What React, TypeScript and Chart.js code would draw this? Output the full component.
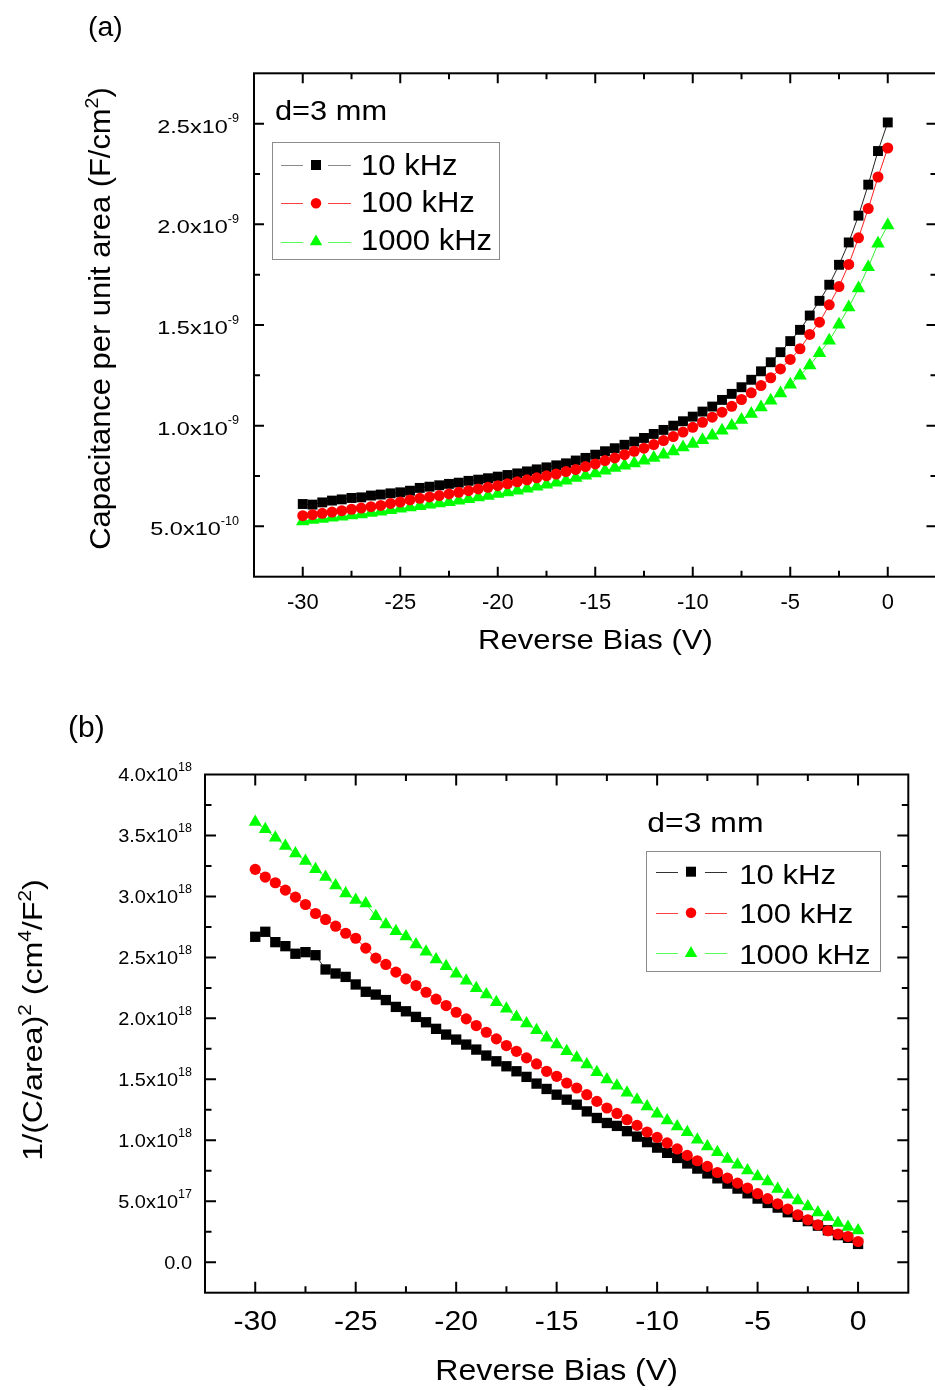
import React, { useEffect, useRef } from "react";
import { Chart, registerables } from "chart.js";
Chart.register(...registerables);

// ---------- data ----------
const biasV = [-30, -29.5, -29, -28.5, -28, -27.5, -27, -26.5, -26, -25.5, -25, -24.5, -24, -23.5, -23, -22.5, -22, -21.5, -21, -20.5, -20, -19.5, -19, -18.5, -18, -17.5, -17, -16.5, -16, -15.5, -15, -14.5, -14, -13.5, -13, -12.5, -12, -11.5, -11, -10.5, -10, -9.5, -9, -8.5, -8, -7.5, -7, -6.5, -6, -5.5, -5, -4.5, -4, -3.5, -3, -2.5, -2, -1.5, -1, -0.5, 0];

// (a) capacitance per unit area, units of 1e-9 F/cm^2
const capA10k = [0.611, 0.608, 0.619, 0.628, 0.634, 0.641, 0.644, 0.653, 0.658, 0.664, 0.669, 0.677, 0.691, 0.697, 0.704, 0.711, 0.717, 0.726, 0.732, 0.739, 0.747, 0.755, 0.763, 0.773, 0.783, 0.793, 0.803, 0.813, 0.827, 0.840, 0.856, 0.873, 0.888, 0.905, 0.921, 0.939, 0.959, 0.979, 1.000, 1.022, 1.045, 1.070, 1.095, 1.128, 1.158, 1.191, 1.228, 1.270, 1.315, 1.365, 1.420, 1.476, 1.547, 1.620, 1.700, 1.799, 1.910, 2.043, 2.197, 2.364, 2.506];
const capA100k = [0.553, 0.558, 0.565, 0.571, 0.578, 0.585, 0.591, 0.598, 0.604, 0.614, 0.621, 0.631, 0.639, 0.646, 0.653, 0.661, 0.669, 0.677, 0.686, 0.694, 0.702, 0.711, 0.721, 0.731, 0.741, 0.751, 0.760, 0.772, 0.783, 0.797, 0.810, 0.827, 0.840, 0.856, 0.873, 0.888, 0.906, 0.926, 0.946, 0.968, 0.992, 1.017, 1.042, 1.067, 1.096, 1.130, 1.163, 1.199, 1.238, 1.282, 1.329, 1.382, 1.453, 1.514, 1.600, 1.691, 1.801, 1.933, 2.078, 2.235, 2.379];
const capA1000k = [0.525, 0.532, 0.537, 0.543, 0.548, 0.555, 0.560, 0.567, 0.573, 0.581, 0.588, 0.594, 0.601, 0.608, 0.614, 0.621, 0.628, 0.636, 0.644, 0.651, 0.661, 0.669, 0.677, 0.687, 0.697, 0.707, 0.717, 0.727, 0.741, 0.752, 0.763, 0.777, 0.790, 0.802, 0.813, 0.827, 0.840, 0.856, 0.873, 0.893, 0.910, 0.929, 0.951, 0.976, 1.000, 1.029, 1.059, 1.091, 1.125, 1.161, 1.204, 1.249, 1.299, 1.360, 1.423, 1.502, 1.588, 1.682, 1.787, 1.904, 1.995];

// (b) 1/(C/area)^2, units of 1e18 cm^4/F^2
const invB10k = [2.669, 2.710, 2.625, 2.592, 2.530, 2.543, 2.518, 2.401, 2.368, 2.340, 2.278, 2.218, 2.195, 2.150, 2.094, 2.058, 2.012, 1.968, 1.914, 1.867, 1.826, 1.785, 1.744, 1.695, 1.648, 1.607, 1.566, 1.520, 1.465, 1.421, 1.374, 1.333, 1.292, 1.237, 1.183, 1.142, 1.118, 1.075, 1.030, 0.985, 0.940, 0.897, 0.855, 0.810, 0.768, 0.728, 0.688, 0.645, 0.604, 0.565, 0.522, 0.486, 0.448, 0.410, 0.372, 0.337, 0.300, 0.262, 0.222, 0.200, 0.150];
const invB100k = [3.222, 3.159, 3.112, 3.052, 2.994, 2.934, 2.860, 2.811, 2.756, 2.698, 2.657, 2.576, 2.494, 2.442, 2.379, 2.324, 2.269, 2.214, 2.157, 2.105, 2.050, 1.996, 1.941, 1.886, 1.832, 1.777, 1.730, 1.676, 1.626, 1.566, 1.525, 1.470, 1.429, 1.374, 1.319, 1.265, 1.220, 1.169, 1.122, 1.068, 1.024, 0.978, 0.929, 0.876, 0.832, 0.786, 0.736, 0.690, 0.649, 0.608, 0.562, 0.521, 0.479, 0.436, 0.389, 0.348, 0.307, 0.258, 0.231, 0.211, 0.170];
const invB1000k = [3.610, 3.550, 3.482, 3.413, 3.353, 3.290, 3.222, 3.159, 3.090, 3.025, 2.970, 2.943, 2.838, 2.770, 2.715, 2.672, 2.606, 2.547, 2.483, 2.428, 2.366, 2.309, 2.246, 2.195, 2.132, 2.078, 2.012, 1.957, 1.902, 1.840, 1.785, 1.730, 1.676, 1.621, 1.557, 1.498, 1.448, 1.390, 1.333, 1.278, 1.218, 1.163, 1.114, 1.065, 1.005, 0.950, 0.901, 0.846, 0.800, 0.753, 0.704, 0.663, 0.600, 0.553, 0.507, 0.457, 0.408, 0.370, 0.321, 0.288, 0.260];

const seriesLabels = ["10 kHz", "100 kHz", "1000 kHz"];

// ---------- ticks ----------
const xMajorTicks = [-30, -25, -20, -15, -10, -5, 0];
const xMinorTicks = [-27.5, -22.5, -17.5, -12.5, -7.5, -2.5];
const xTickLabels = ["-30", "-25", "-20", "-15", "-10", "-5", "0"];

const aYMajorTicks = [0.5, 1.0, 1.5, 2.0, 2.5];
const aYMinorTicks = [0.75, 1.25, 1.75, 2.25];
const aYTickLabels = ["5.0x10^{-10}", "1.0x10^{-9}", "1.5x10^{-9}", "2.0x10^{-9}", "2.5x10^{-9}"];

const bYMajorTicks = [0, 0.5, 1.0, 1.5, 2.0, 2.5, 3.0, 3.5, 4.0];
const bYMinorTicks = [0.25, 0.75, 1.25, 1.75, 2.25, 2.75, 3.25, 3.75];
const bYTickLabels = ["0.0", "5.0x10^{17}", "1.0x10^{18}", "1.5x10^{18}", "2.0x10^{18}", "2.5x10^{18}", "3.0x10^{18}", "3.5x10^{18}", "4.0x10^{18}"];

// ---------- styles ----------
const COLORS = ["#000000", "#ff0000", "#00ff00"];
const STYLES = ["rect", "circle", "triangle"];
const FONT = (s: number) => `${s}px "Liberation Sans", Arial, Helvetica, sans-serif`;

type Seg = { t: string; sup?: boolean };
function parseSup(s: string): Seg[] {
  const out: Seg[] = [];
  const re = /\^\{([^}]*)\}/g;
  let last = 0;
  let m: RegExpExecArray | null;
  while ((m = re.exec(s))) {
    if (m.index > last) out.push({ t: s.slice(last, m.index) });
    out.push({ t: m[1], sup: true });
    last = re.lastIndex;
  }
  if (last < s.length) out.push({ t: s.slice(last) });
  return out;
}

type TextOpt = { size: number; sx?: number; supSize?: number; supSx?: number; rise?: number; align?: "left" | "right" | "center"; rotate?: number; color?: string };
function drawRich(ctx: CanvasRenderingContext2D, s: string, x: number, y: number, o: TextOpt) {
  const segs = parseSup(s);
  const sx = o.sx ?? 1;
  const supSize = o.supSize ?? o.size * 0.65;
  const supSx = o.supSx ?? sx;
  const rise = o.rise ?? o.size * 0.4;
  const widths = segs.map((g) => {
    ctx.font = FONT(g.sup ? supSize : o.size);
    return ctx.measureText(g.t).width * (g.sup ? supSx : sx);
  });
  const total = widths.reduce((a, b) => a + b, 0);
  ctx.save();
  ctx.translate(x, y);
  if (o.rotate) ctx.rotate(o.rotate);
  let cx = o.align === "right" ? -total : o.align === "center" ? -total / 2 : 0;
  ctx.fillStyle = o.color ?? "#000";
  ctx.textBaseline = "alphabetic";
  ctx.textAlign = "left";
  segs.forEach((g, i) => {
    ctx.save();
    ctx.translate(cx, g.sup ? -rise : 0);
    ctx.scale(g.sup ? supSx : sx, 1);
    ctx.font = FONT(g.sup ? supSize : o.size);
    ctx.fillText(g.t, 0, 0);
    ctx.restore();
    cx += widths[i];
  });
  ctx.restore();
}

function drawMarker(ctx: CanvasRenderingContext2D, style: string, x: number, y: number, size: number, color: string) {
  ctx.fillStyle = color;
  ctx.beginPath();
  if (style === "rect") {
    ctx.rect(x - size / 2, y - size / 2, size, size);
  } else if (style === "circle") {
    ctx.arc(x, y, size / 2, 0, Math.PI * 2);
  } else {
    const r = size * 0.6;
    ctx.moveTo(x, y - r);
    ctx.lineTo(x + r * 0.866, y + r / 2);
    ctx.lineTo(x - r * 0.866, y + r / 2);
    ctx.closePath();
  }
  ctx.fill();
}

type FrameSpec = {
  majorLen: number;
  minorLen: number;
  xMajor: number[];
  xMinor: number[];
  xLabels: string[];
  xLabelBaseline: number;
  xLabelOpt: TextOpt;
  yMajor: number[];
  yMinor: number[];
  yLabels: string[];
  yLabelRight: number;
  yLabelDy: number;
  yLabelOpt: TextOpt;
  xTitle: string;
  xTitleX: number;
  xTitleY: number;
  xTitleOpt: TextOpt;
  yTitle: string;
  yTitleX: number;
  yTitleY: number;
  yTitleOpt: TextOpt;
  panel: string;
  panelX: number;
  panelY: number;
  panelOpt: TextOpt;
  note: string;
  noteX: number;
  noteY: number;
  noteOpt: TextOpt;
  legendBox: [number, number, number, number];
  legendLine1: [number, number];
  legendLine2: [number, number];
  legendMarkerX: number;
  legendMarkerY: number[];
  legendMarkerSize: number[];
  legendLineColors: string[];
  legendTextX: number;
  legendTextY: number[];
  legendTextOpt: TextOpt;
};

function framePlugin(spec: FrameSpec) {
  return {
    id: "frame",
    afterDraw(chart: any) {
      const ctx: CanvasRenderingContext2D = chart.ctx;
      const a = chart.chartArea;
      const xs = chart.scales.x;
      const ys = chart.scales.y;
      ctx.save();
      ctx.strokeStyle = "#000";
      ctx.lineWidth = 2;
      ctx.lineCap = "butt";
      const tickX = (v: number, len: number) => {
        const px = xs.getPixelForValue(v);
        if (px <= a.left + 1 || px >= a.right - 1) return;
        ctx.beginPath();
        ctx.moveTo(px, a.bottom);
        ctx.lineTo(px, a.bottom - len);
        ctx.moveTo(px, a.top);
        ctx.lineTo(px, a.top + len);
        ctx.stroke();
      };
      const tickY = (v: number, len: number) => {
        const py = ys.getPixelForValue(v);
        if (py <= a.top + 1 || py >= a.bottom - 1) return;
        ctx.beginPath();
        ctx.moveTo(a.left, py);
        ctx.lineTo(a.left + len, py);
        ctx.moveTo(a.right, py);
        ctx.lineTo(a.right - len, py);
        ctx.stroke();
      };
      spec.xMajor.forEach((v) => tickX(v, spec.majorLen));
      spec.xMinor.forEach((v) => tickX(v, spec.minorLen));
      spec.yMajor.forEach((v) => tickY(v, spec.majorLen));
      spec.yMinor.forEach((v) => tickY(v, spec.minorLen));
      ctx.strokeRect(a.left, a.top, a.right - a.left, a.bottom - a.top);

      // tick labels
      spec.xMajor.forEach((v, i) => {
        drawRich(ctx, spec.xLabels[i], xs.getPixelForValue(v), spec.xLabelBaseline, { ...spec.xLabelOpt, align: "center" });
      });
      spec.yMajor.forEach((v, i) => {
        drawRich(ctx, spec.yLabels[i], spec.yLabelRight, ys.getPixelForValue(v) + spec.yLabelDy, { ...spec.yLabelOpt, align: "right" });
      });

      // titles
      drawRich(ctx, spec.xTitle, spec.xTitleX, spec.xTitleY, { ...spec.xTitleOpt, align: "center" });
      drawRich(ctx, spec.yTitle, spec.yTitleX, spec.yTitleY, { ...spec.yTitleOpt, align: "center", rotate: -Math.PI / 2 });
      drawRich(ctx, spec.panel, spec.panelX, spec.panelY, spec.panelOpt);
      drawRich(ctx, spec.note, spec.noteX, spec.noteY, spec.noteOpt);

      // legend
      const [bx, by, bw, bh] = spec.legendBox;
      ctx.lineWidth = 1;
      ctx.strokeStyle = "#8c8c8c";
      ctx.strokeRect(bx + 0.5, by + 0.5, bw, bh);
      chart.data.datasets.forEach((ds: any, i: number) => {
        const my = spec.legendMarkerY[i];
        ctx.strokeStyle = spec.legendLineColors[i];
        ctx.lineWidth = 1;
        ctx.beginPath();
        ctx.moveTo(spec.legendLine1[0], Math.round(my) + 0.5);
        ctx.lineTo(spec.legendLine1[1], Math.round(my) + 0.5);
        ctx.moveTo(spec.legendLine2[0], Math.round(my) + 0.5);
        ctx.lineTo(spec.legendLine2[1], Math.round(my) + 0.5);
        ctx.stroke();
        drawMarker(ctx, ds.pointStyle, spec.legendMarkerX, my, spec.legendMarkerSize[i], ds.pointBackgroundColor);
        drawRich(ctx, ds.label, spec.legendTextX, spec.legendTextY[i], spec.legendTextOpt);
      });
      ctx.restore();
    },
  };
}

function makeDatasets(series: number[][], radii: number[], lineColors: string[]) {
  // drawing order: red on top, then green, black at the bottom
  const orders = [2, 0, 1];
  return series.map((vals, i) => ({
    label: seriesLabels[i],
    data: biasV.map((v, k) => ({ x: v, y: vals[k] })),
    showLine: true,
    borderColor: lineColors[i],
    borderWidth: 1,
    pointStyle: STYLES[i],
    pointRadius: radii[i],
    pointBackgroundColor: COLORS[i],
    pointBorderWidth: 0,
    pointHoverRadius: radii[i],
    order: orders[i],
    clip: false,
  }));
}

const A_W = 950;
const A_H = 695;
const B_W = 935;
const B_H = 695;

const specA: FrameSpec = {
  majorLen: 10,
  minorLen: 6,
  xMajor: xMajorTicks,
  xMinor: xMinorTicks,
  xLabels: xTickLabels,
  xLabelBaseline: 608.5,
  xLabelOpt: { size: 21.5, sx: 1.02 },
  yMajor: aYMajorTicks,
  yMinor: aYMinorTicks,
  yLabels: aYTickLabels,
  yLabelRight: 239,
  yLabelDy: 9,
  yLabelOpt: { size: 18.5, sx: 1.27, supSize: 12, supSx: 1.05, rise: 10.5 },
  xTitle: "Reverse Bias (V)",
  xTitleX: 595.5,
  xTitleY: 649,
  xTitleOpt: { size: 28.5, sx: 1.09 },
  yTitle: "Capacitance per unit area (F/cm^{2})",
  yTitleX: 110,
  yTitleY: 318.5,
  yTitleOpt: { size: 30, sx: 1.03, supSize: 19, supSx: 1.03, rise: 12 },
  panel: "(a)",
  panelX: 88,
  panelY: 36,
  panelOpt: { size: 27, sx: 1.05 },
  note: "d=3 mm",
  noteX: 275,
  noteY: 120,
  noteOpt: { size: 28.5, sx: 1.08 },
  legendBox: [272, 142, 227, 117],
  legendLine1: [281, 303],
  legendLine2: [328, 351],
  legendMarkerX: 316,
  legendMarkerY: [165, 203.3, 241.7],
  legendMarkerSize: [10, 10.5, 12],
  legendLineColors: ["#8a8a8a", "#ff4040", "#55ff55"],
  legendTextX: 361,
  legendTextY: [175, 212, 250],
  legendTextOpt: { size: 29, sx: 1.07 },
};

const specB: FrameSpec = {
  majorLen: 11,
  minorLen: 6.5,
  xMajor: xMajorTicks,
  xMinor: xMinorTicks,
  xLabels: xTickLabels,
  xLabelBaseline: 635,
  xLabelOpt: { size: 28.5, sx: 1.06 },
  yMajor: bYMajorTicks,
  yMinor: bYMinorTicks,
  yLabels: bYTickLabels,
  yLabelRight: 192,
  yLabelDy: 6.8,
  yLabelOpt: { size: 17.5, sx: 1.14, supSize: 12.5, supSx: 1.0, rise: 10.5 },
  xTitle: "Reverse Bias (V)",
  xTitleX: 556.6,
  xTitleY: 685,
  xTitleOpt: { size: 30, sx: 1.07 },
  yTitle: "1/(C/area)^{2} (cm^{4}/F^{2})",
  yTitleX: 42,
  yTitleY: 325,
  yTitleOpt: { size: 28, sx: 1.15, supSize: 18, supSx: 1.15, rise: 11 },
  panel: "(b)",
  panelX: 68,
  panelY: 42,
  panelOpt: { size: 30, sx: 1.0 },
  note: "d=3 mm",
  noteX: 647.3,
  noteY: 136.7,
  noteOpt: { size: 28, sx: 1.14 },
  legendBox: [646, 156, 234, 120],
  legendLine1: [656, 678],
  legendLine2: [705, 727],
  legendMarkerX: 691,
  legendMarkerY: [176.7, 217.7, 258.3],
  legendMarkerSize: [10, 10.5, 12],
  legendLineColors: ["#333333", "#ff4040", "#55ff55"],
  legendTextX: 739.3,
  legendTextY: [189, 228.3, 269],
  legendTextOpt: { size: 27.5, sx: 1.13 },
};

export default function App() {
  const refA = useRef<HTMLCanvasElement>(null);
  const refB = useRef<HTMLCanvasElement>(null);

  useEffect(() => {
    const chartA = new Chart(refA.current as HTMLCanvasElement, {
      type: "scatter",
      data: { datasets: makeDatasets([capA10k, capA100k, capA1000k], [7.0, 5.5, 7.8], ["#222222", "#ff2020", "#33ee33"]) as any },
      options: {
        animation: false,
        responsive: false,
        devicePixelRatio: 1,
        events: [],
        layout: { padding: { left: 254, top: 73.3, right: A_W - 936.5, bottom: A_H - 576.7 } },
        scales: {
          x: { type: "linear", min: -32.5, max: 2.5, display: false },
          y: { type: "linear", min: 0.25, max: 2.75, display: false },
        },
        plugins: { legend: { display: false }, tooltip: { enabled: false } },
      },
      plugins: [framePlugin(specA)],
    });
    const chartB = new Chart(refB.current as HTMLCanvasElement, {
      type: "scatter",
      data: { datasets: makeDatasets([invB10k, invB100k, invB1000k], [7.3, 5.6, 7.5], ["#222222", "#ff2020", "#33ee33"]) as any },
      options: {
        animation: false,
        responsive: false,
        devicePixelRatio: 1,
        events: [],
        layout: { padding: { left: 205, top: 79.5, right: B_W - 908.3, bottom: B_H - 597.7 } },
        scales: {
          x: { type: "linear", min: -32.5, max: 2.5, display: false },
          y: { type: "linear", min: -0.25, max: 4.0, display: false },
        },
        plugins: { legend: { display: false }, tooltip: { enabled: false } },
      },
      plugins: [framePlugin(specB)],
    });
    return () => {
      chartA.destroy();
      chartB.destroy();
    };
  }, []);

  return (
    <div style={{ position: "absolute", left: 0, top: 0, width: 935, height: 1390, overflow: "hidden", background: "#ffffff" }}>
      <canvas ref={refA} width={A_W} height={A_H} style={{ position: "absolute", left: 0, top: 0, width: A_W, height: A_H }} />
      <canvas ref={refB} width={B_W} height={B_H} style={{ position: "absolute", left: 0, top: A_H, width: B_W, height: B_H }} />
    </div>
  );
}
